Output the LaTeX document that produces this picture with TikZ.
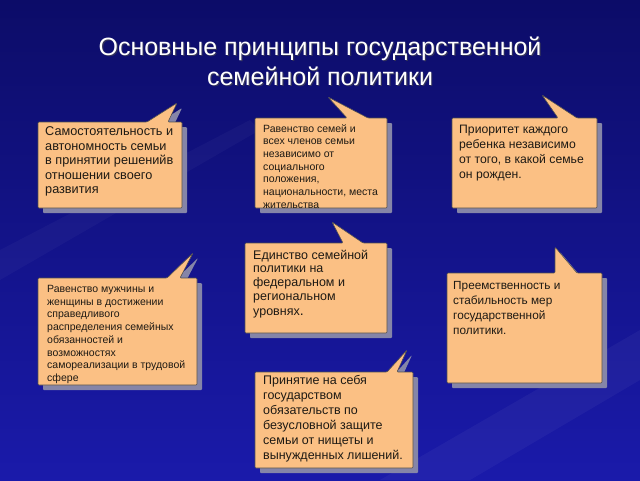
\documentclass[tikz,border=0pt]{standalone}
\usepackage{fontspec}
\setmainfont{Liberation Sans}
\definecolor{bgtop}{HTML}{0C0C68}
\definecolor{bgbot}{HTML}{1A1AAA}
\definecolor{peach}{HTML}{FBC084}
\definecolor{shade}{HTML}{8585A8}
\definecolor{edge}{HTML}{505050}
\definecolor{ink}{HTML}{1E1A14}
\tikzset{
  bubblebox/.style={fill=peach, draw=edge, line width=0.6pt, rounded corners=1pt},
  bubbleshadow/.style={fill=shade, rounded corners=1pt},
  txt/.style={anchor=north west, inner sep=0pt, align=left, text=ink},
  titletxt/.style={anchor=north, inner sep=0pt, align=center, font=\fontsize{25}{30}\selectfont},
}
% #1,#2 = top-left corner; #3,#4 = bottom-right corner; #5,#6 = tail base x; #7,#8 = tail tip
\newcommand\bubble[8]{%
  \fill[bubbleshadow, shift={(5,5)}] (#1,#2) -- (#5,#2) -- (#7,#8) -- (#6,#2) -- (#3,#2) -- (#3,#4) -- (#1,#4) -- cycle;
  \filldraw[bubblebox] (#1,#2) -- (#5,#2) -- (#7,#8) -- (#6,#2) -- (#3,#2) -- (#3,#4) -- (#1,#4) -- cycle;
}
\begin{document}
\begin{tikzpicture}[x=1pt, y=-1pt]
\shade[top color=bgtop, bottom color=bgbot] (0,0) rectangle (640,480);
\useasboundingbox (0,0) rectangle (640,480);
% faint streaks
\fill[white, opacity=0.04] (380,480) -- (640,330) -- (640,380) -- (470,480) -- cycle;
\fill[white, opacity=0.03] (0,250) -- (250,120) -- (260,130) -- (0,280) -- cycle;

% title
\node[titletxt, text=black!70, opacity=0.6] (titleshadow) at (321.2,37.9) {Основные принципы государственной\\семейной политики};
\node[titletxt, text=white] (title) at (320,36.7) {Основные принципы государственной\\семейной политики};

% bubbles
\bubble{38}{122}{182}{208}{147}{168}{177}{103}
\bubble{255}{118}{387}{208}{347}{368}{328}{97}
\bubble{452}{118}{597}{208}{558}{577}{542}{95}
\bubble{38}{278}{197}{385}{167}{180}{193}{253}
\bubble{245}{243}{387}{333}{343}{363}{332}{222}
\bubble{447}{273}{602}{383}{555}{577}{555}{247}
\bubble{255}{372}{413}{468}{387}{397}{407}{350}

\node[txt, font=\fontsize{12.7}{14.5}\selectfont] (t1) at (45,126.5)
  {Самостоятельность и\\автономность семьи\\в принятии решенийв\\отношении своего\\развития};
\node[txt, font=\fontsize{10.5}{12.7}\selectfont] (t2) at (263,124.1)
  {Равенство семей и\\всех членов семьи\\независимо от\\социального\\положения,\\национальности, места\\жительства};
\node[txt, font=\fontsize{12.2}{15}\selectfont] (t3) at (459,124.8)
  {Приоритет каждого\\ребенка независимо\\от того, в какой семье\\он рожден.};
\node[txt, font=\fontsize{10.5}{12.7}\selectfont] (t4) at (47,285.1)
  {Равенство мужчины и\\женщины в достижении\\справедливого\\распределения семейных\\обязанностей и\\возможностях\\самореализации в трудовой\\сфере};
\node[txt, font=\fontsize{12.5}{13.8}\selectfont] (t5) at (253,249.6)
  {Единство семейной\\политики на\\федеральном и\\региональном\\[1.5pt]уровнях{\fontsize{14}{14}\selectfont.}};
\node[txt, font=\fontsize{11.8}{15}\selectfont] (t6) at (453,281.1)
  {Преемственность и\\стабильность мер\\государственной\\политики.};
\node[txt, font=\fontsize{12.5}{15}\selectfont] (t7) at (263,375.6)
  {Принятие на себя\\государством\\обязательств по\\безусловной защите\\семьи от нищеты и\\вынужденных лишений.};
\end{tikzpicture}
\end{document}
